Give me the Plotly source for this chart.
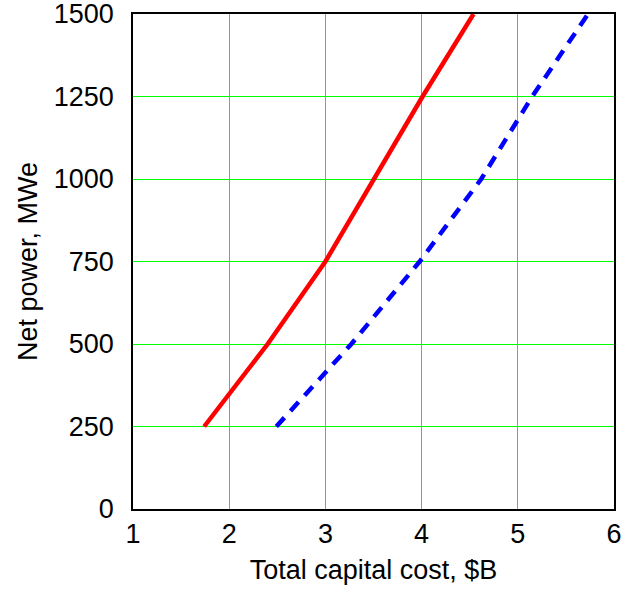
import plotly.graph_objects as go

# Data
power_mwe = [250, 500, 750, 1000, 1250, 1500]
cost_red = [1.74, 2.40, 3.00, 3.50, 4.01, 4.54]
cost_blue = [2.49, 3.27, 3.98, 4.62, 5.15, 5.73]

x_ticks = [1, 2, 3, 4, 5, 6]
y_ticks = [0, 250, 500, 750, 1000, 1250, 1500]

FONT = "Liberation Sans, Arial, sans-serif"
GRID = "rgb(0,255,0)"

fig = go.Figure()
fig.add_trace(go.Scatter(x=cost_red, y=power_mwe, mode="lines",
                         line=dict(color="#ff0000", width=4.5), showlegend=False))
fig.add_trace(go.Scatter(x=cost_blue, y=power_mwe, mode="lines",
                         line=dict(color="#0000ff", width=4.5, dash="12px,9px"), showlegend=False))

fig.update_layout(
    width=632, height=596,
    margin=dict(l=133, r=18, t=14, b=87, autoexpand=False),
    paper_bgcolor="white", plot_bgcolor="white",
    font=dict(family=FONT, size=27, color="black"),
    xaxis=dict(range=[1, 6], tickvals=x_ticks, showgrid=True, gridcolor=GRID, gridwidth=1.3,
               showline=True, linecolor="black", linewidth=1.5, mirror=True, automargin=False,
               ticks="", ticklabelstandoff=0, zeroline=False, ticklabeloverflow="allow",
               title=dict(text="Total capital cost, $B", standoff=12,
                          font=dict(family=FONT, size=27))),
    yaxis=dict(range=[0, 1500.01], tickvals=y_ticks, showgrid=True, gridcolor=GRID, gridwidth=1.3,
               showline=True, linecolor="black", linewidth=1.5, mirror=True, automargin=False,
               ticks="", ticklabelstandoff=12, zeroline=False, ticklabeloverflow="allow",
               title=dict(text="Net power, MWe", standoff=8,
                          font=dict(family=FONT, size=27))),
)

fig.write_html("out.html")
